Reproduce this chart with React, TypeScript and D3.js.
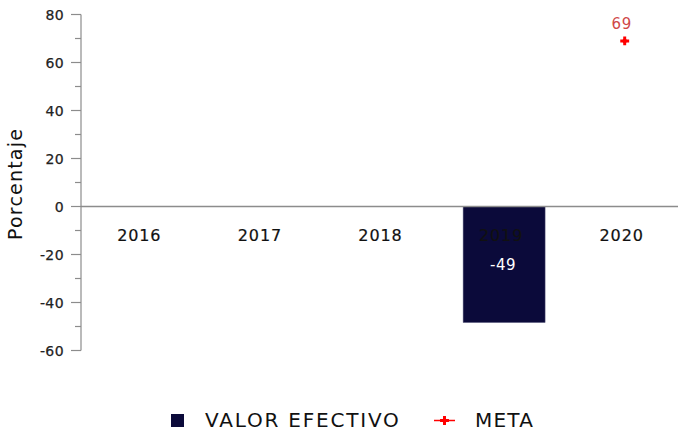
import React from "react";
import * as d3 from "d3";

const categories: string[] = ["2016", "2017", "2018", "2019", "2020"];
const valorEfectivo: (number | null)[] = [null, null, null, -49, null];
const meta: (number | null)[] = [null, null, null, null, 69];
const yMajorTicks: number[] = [-60, -40, -20, 0, 20, 40, 60, 80];
const yMinorTicks: number[] = [-50, -30, -10, 10, 30, 50, 70];
const seriesNames: string[] = ["VALOR EFECTIVO", "META"];

const W = 678;
const H = 433;
const FONT = "'DejaVu Sans', Verdana, sans-serif";
const BAR = "#0b0a3a";
const AXIS = "#8c8c8c";

export default function App() {
  const x = d3.scaleBand<string>().domain(categories).range([81, 684]).paddingInner(0.32).paddingOuter(0.16);
  const y = d3.scaleLinear().domain([-60, 80]).range([350.5, 14.5]);
  const cx = (c: string) => (x(c) as number) + x.bandwidth() / 2;
  const cross = d3.symbol().type(d3.symbolCross).size(44)() as string;
  const diamond = d3.symbol().type(d3.symbolDiamond2).size(26)() as string;
  const Marker = ({ tx, ty }: { tx: number; ty: number }) => (
    <g transform={`translate(${tx},${ty})`}>
      <path d={cross} fill="#ff0000" />
      <path d={diamond} fill="#ff0000" />
    </g>
  );

  return (
    <svg width={W} height={H} style={{ position: "absolute", left: 0, top: 0, background: "#fff" }} fontFamily={FONT}>
      {/* bars */}
      {categories.map((c, i) => {
        const v = valorEfectivo[i];
        if (v == null) return null;
        const y0 = y(0);
        const y1 = y(v);
        return (
          <rect key={"b" + c} x={(x(c) as number) + 1} y={Math.min(y0, y1)} width={x.bandwidth()} height={Math.abs(y1 - y0) - 1.5} fill={BAR} stroke="#6a6a8a" strokeWidth={0.5} />
        );
      })}
      {/* zero line */}
      <line x1={81} x2={W} y1={y(0)} y2={y(0)} stroke={AXIS} strokeWidth={1.5} />
      {/* y axis */}
      <line x1={81} x2={81} y1={y(80)} y2={y(-60)} stroke={AXIS} strokeWidth={1.2} />
      {yMajorTicks.map((t) => (
        <g key={"t" + t}>
          <line x1={71} x2={81} y1={y(t)} y2={y(t)} stroke={AXIS} strokeWidth={1.2} />
          <text x={64} y={y(t)} dy="0.36em" textAnchor="end" fontSize={14} fill="#222" stroke="#222" strokeWidth={0.25} letterSpacing={0.4}>{t}</text>
        </g>
      ))}
      {yMinorTicks.map((t) => (
        <line key={"m" + t} x1={75} x2={81} y1={y(t)} y2={y(t)} stroke={AXIS} strokeWidth={1.2} />
      ))}
      {/* category labels */}
      {categories.map((c) => (
        <text key={"c" + c} x={cx(c) - 2} y={241} textAnchor="middle" fontSize={16} fill="#111" stroke="#111" strokeWidth={0.2} letterSpacing={0.9}>{c}</text>
      ))}
      {/* bar value labels */}
      {categories.map((c, i) => {
        const v = valorEfectivo[i];
        if (v == null) return null;
        return (
          <text key={"v" + c} x={cx(c)} y={270} textAnchor="middle" fontSize={15} fill="#fff" letterSpacing={0.5}>{v}</text>
        );
      })}
      {/* meta points */}
      {categories.map((c, i) => {
        const v = meta[i];
        if (v == null) return null;
        return (
          <g key={"p" + c}>
            <Marker tx={cx(c) + 1} ty={y(v)} />
            <text x={cx(c) - 2} y={y(v) - 12} textAnchor="middle" fontSize={15} fill="#d04848" letterSpacing={0.6}>{v}</text>
          </g>
        );
      })}
      {/* y title */}
      <text transform={`translate(22,184) rotate(-90)`} textAnchor="middle" fontSize={19} fill="#111" letterSpacing={1.2}>Porcentaje</text>
      {/* legend */}
      <rect x={171} y={414} width={13} height={13} fill={BAR} />
      <text x={205} y={427} fontSize={20} fill="#111" letterSpacing={1.8}>{seriesNames[0]}</text>
      <line x1={434} x2={455} y1={420.5} y2={420.5} stroke="#ff0000" strokeWidth={1.5} />
      <Marker tx={444.5} ty={420.5} />
      <text x={475} y={427} fontSize={20} fill="#111" letterSpacing={1.2}>{seriesNames[1]}</text>
    </svg>
  );
}
